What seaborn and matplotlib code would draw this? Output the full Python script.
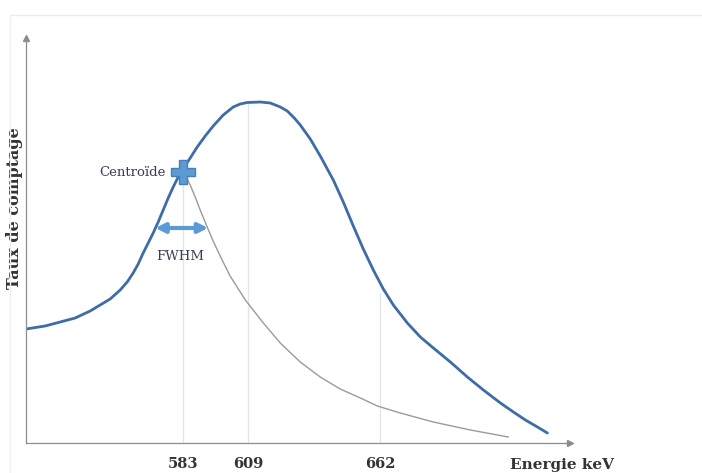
import numpy as np
import pandas as pd
import seaborn as sns
import matplotlib.pyplot as plt
from matplotlib.lines import Line2D

# spectre total (courbe bleue), energie en keV / taux arbitraire
energie_total = [520.05, 527.67, 533.68, 539.70, 545.71, 549.72, 553.73, 557.74, 560.55,
                 562.95, 564.96, 566.96, 568.97, 570.97, 572.98, 574.98, 576.99, 578.99,
                 581.00, 582.60, 585.81, 588.61, 591.82, 595.03, 599.04, 603.05, 605.85,
                 608.66, 613.87, 617.88, 621.89, 624.70, 627.51, 629.91, 633.92, 637.93,
                 643.14, 647.15, 651.16, 655.17, 659.18, 663.19, 667.20, 672.82, 678.03,
                 683.24, 690.06, 696.87, 703.29, 710.11, 715.32, 720.13, 724.94, 728.95]
taux_total = [114, 117, 121, 125, 132, 138, 144, 153, 161,
              170, 179, 190, 200, 210, 221, 233, 245, 256,
              266, 273, 285, 296, 307, 317, 328, 336, 339,
              340.5, 341, 340, 336, 332, 325, 318, 304, 287,
              263, 241, 217, 194, 173, 154, 138, 120, 106,
              95, 81, 66, 53, 40, 31, 23, 16, 10]

# pic seul (courbe grise) depuis le centroide
energie_pic = [583.0, 584.2, 585.8, 587.8, 589.8, 592.6, 595.0, 597.8, 601.8, 607.9,
               615.1, 621.9, 629.9, 637.9, 645.9, 654.0, 660.8, 670.0, 683.2, 698.1,
               713.3]
taux_pic = [271, 266, 258, 246, 233, 216, 202, 187, 167, 143,
            120, 100, 81, 66, 54, 45, 37, 30, 21, 13,
            6]

ticks_kev = [583, 609, 662]
tick_hauteur = [271, 341, 150]
centroide = (583.0, 271)
fwhm = (571.8, 593.0, 215)

df_total = pd.DataFrame({'E': energie_total, 'taux': taux_total})
df_pic = pd.DataFrame({'E': energie_pic, 'taux': taux_pic})

sns.set_style('white')

fig = plt.figure(figsize=(7.02, 4.73), dpi=100)
ax = fig.add_axes([26 / 702, 30 / 473, 544 / 702, 405 / 473])

# lignes verticales pales
ax.vlines(ticks_kev, 0, tick_hauteur, color='#e2e6ec', lw=1)

sns.lineplot(data=df_pic, x='E', y='taux', sort=False, color='#9a9a9a', lw=1.0,
             solid_joinstyle='round', ax=ax)
sns.lineplot(data=df_total, x='E', y='taux', sort=False, color='#3d6ca6', lw=2.0,
             solid_joinstyle='round', solid_capstyle='round', ax=ax)

# centroide
ax.plot(*centroide, marker='P', ms=17, color='#5b9bd5', mec='#4a7fb5', mew=1, zorder=5)
ax.text(centroide[0] - 7, centroide[1], 'Centroïde', ha='right', va='center',
        family='DejaVu Serif', fontsize=9.5, color='#3b3d55')

# FWHM
ax.annotate('', xy=(fwhm[0], fwhm[2]), xytext=(fwhm[1], fwhm[2]),
            arrowprops=dict(arrowstyle='<|-|>', color='#5b9bd5', lw=3,
                            mutation_scale=14, shrinkA=0, shrinkB=0))
ax.text(581.8, 186, 'FWHM', ha='center', va='center', family='DejaVu Serif',
        fontsize=9.5, color='#3b3d55')

ax.set_xlim(520, 738)
ax.set_ylim(0, 405)
ax.set_xticks(ticks_kev)
ax.set_xticklabels([str(t) for t in ticks_kev], family='DejaVu Serif',
                   fontweight='bold', fontsize=10.5, color='#333333')
ax.tick_params(axis='x', length=0, pad=10)
ax.set_yticks([])

ax.set_xlabel('Energie keV', family='DejaVu Serif', fontweight='bold',
              fontsize=11, color='#333333')
ax.xaxis.set_label_coords(0.985, -0.037)
ax.set_ylabel('Taux de comptage', family='DejaVu Serif', fontweight='bold',
              fontsize=11.5, color='#333333')
ax.yaxis.set_label_coords(-0.0055, 0.58)

for s in ['top', 'right']:
    ax.spines[s].set_visible(False)
for s in ['left', 'bottom']:
    ax.spines[s].set_color('#8c8c8c')
    ax.spines[s].set_linewidth(0.9)
ax.plot(1, 0, '>', color='#8c8c8c', ms=4, transform=ax.transAxes, clip_on=False)
ax.plot(0, 1, '^', color='#8c8c8c', ms=4, transform=ax.transAxes, clip_on=False)

# cadre pale autour de l'image
fig.add_artist(Line2D([10 / 702, 1], [1 - 15 / 473, 1 - 15 / 473], color='#ececec', lw=1))
fig.add_artist(Line2D([10 / 702, 10 / 702], [0, 1 - 15 / 473], color='#f0f0f0', lw=1))

fig.savefig('out.png', dpi=100)
